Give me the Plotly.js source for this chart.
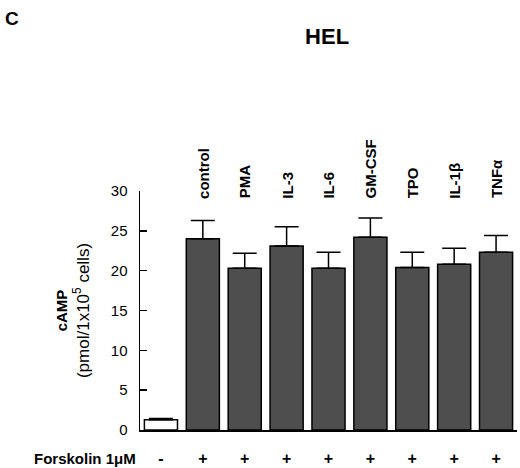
<!DOCTYPE html>
<html><head><meta charset="utf-8">
<script src="https://cdn.plot.ly/plotly-3.0.1.min.js"></script>
<style>body{margin:0;background:#fff}#c{width:520px;height:468px}</style>
</head><body><div id="c"></div>
<script>
var treatments = ["", "control", "PMA", "IL-3", "IL-6", "GM-CSF", "TPO", "IL-1β", "TNFα"];
var forskolin = ["-", "+", "+", "+", "+", "+", "+", "+", "+"];
var camp = [1.3, 24.0, 20.3, 23.1, 20.3, 24.2, 20.4, 20.8, 22.3];
var campErr = [0.15, 2.3, 1.9, 2.4, 2.0, 2.4, 1.9, 2.0, 2.1];
var yTicks = [0, 5, 10, 15, 20, 25, 30];

var idx = camp.map(function(_, i){ return i; });
var fills = camp.map(function(_, i){ return i === 0 ? "#ffffff" : "#4e4e4e"; });
var FONT = "Liberation Sans, Arial, Helvetica, sans-serif";

var ann = [];
treatments.forEach(function(t, i){
  if (!t) return;
  ann.push({x: i, y: 28.8, xref: "x", yref: "y", text: "<b>" + t + "</b>", showarrow: false,
    textangle: -90, xanchor: "center", yanchor: "bottom", font: {family: FONT, size: 15, color: "#000"}});
});
ann.push({xref: "paper", yref: "paper", x: -0.005, y: -0.12, xanchor: "right", yanchor: "middle",
  text: "<b>Forskolin 1μM</b>", showarrow: false, font: {family: FONT, size: 15, color: "#000"}});
ann.push({xref: "paper", yref: "paper", x: -0.363, y: 1.776, xanchor: "left", yanchor: "top",
  text: "<b>C</b>", showarrow: false, font: {family: FONT, size: 19, color: "#000"}});

var trace = {
  type: "bar", x: idx, y: camp,
  marker: {color: fills, line: {color: "#000", width: 1.5}},
  error_y: {type: "data", symmetric: false, array: campErr, arrayminus: campErr.map(function(){return 0;}),
    color: "#000", thickness: 1.5, width: 12},
  cliponaxis: false, hoverinfo: "none"
};

var layout = {
  width: 520, height: 468,
  margin: {l: 140, r: 2.5, t: 190.7, b: 38, pad: 0},
  paper_bgcolor: "#fff", plot_bgcolor: "#fff",
  showlegend: false, bargap: 0.21,
  title: {text: "<b>HEL</b>", xref: "container", yref: "container", x: 0.629, y: 0.923,
    xanchor: "center", yanchor: "middle", font: {family: FONT, size: 22, color: "#000"}},
  xaxis: {range: [-0.5, 8.5], tickvals: idx, ticktext: forskolin, showgrid: false, zeroline: false,
    showline: true, linecolor: "#000", linewidth: 1.5, ticks: "", ticklabelstandoff: 13,
    tickfont: {family: FONT, size: 16, color: "#000", weight: "bold"}},
  yaxis: {range: [0, 30], tickvals: yTicks, showgrid: false, zeroline: false,
    showline: true, linecolor: "#000", linewidth: 1.5, ticks: "inside", ticklen: 7, tickwidth: 1.5, tickcolor: "#000",
    tickfont: {family: FONT, size: 15, color: "#000"}, ticklabelstandoff: 8,
    title: {text: "<b><span style='font-size:15px'>cAMP</span></b><br>(pmol/1x10<sup>5</sup> cells)", standoff: 17,
      font: {family: FONT, size: 17, color: "#000"}}},
  annotations: ann
};
Plotly.newPlot("c", [trace], layout, {displayModeBar: false, staticPlot: true});
</script></body></html>
